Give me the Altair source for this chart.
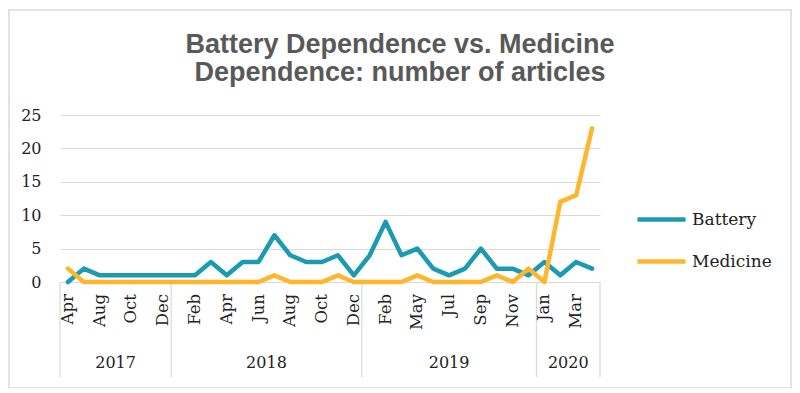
import altair as alt
import pandas as pd

title_lines = ["Battery Dependence vs. Medicine", "Dependence: number of articles"]
years = ["2017", "2018", "2019", "2020"]
months_2017 = ["Apr", "Jul", "Aug", "Sep", "Oct", "Nov", "Dec"]
months_2018 = ["Jan", "Feb", "Mar", "Apr", "May", "Jun", "Jul", "Aug", "Sep", "Oct", "Nov", "Dec"]
months_2019 = ["Jan", "Feb", "Mar", "May", "Jun", "Jul", "Aug", "Sep", "Oct", "Nov", "Dec"]
months_2020 = ["Jan", "Feb", "Mar", "Apr"]

battery = [0, 2, 1, 1, 1, 1, 1,
           1, 1, 3, 1, 3, 3, 7, 4, 3, 3, 4, 1,
           4, 9, 4, 5, 2, 1, 2, 5, 2, 2, 1,
           3, 1, 3, 2]
medicine = [2, 0, 0, 0, 0, 0, 0,
            0, 0, 0, 0, 0, 0, 1, 0, 0, 0, 1, 0,
            0, 0, 0, 1, 0, 0, 0, 0, 1, 0, 2,
            0, 12, 13, 23]

series_names = ["Battery", "Medicine"]
series_colors = ["#1A9BB1", "#FFB52C"]

month_groups = [months_2017, months_2018, months_2019, months_2020]
months = [m for g in month_groups for m in g]

rows = []
for i, m in enumerate(months):
    rows.append({"idx": i, "month": m, "series": "Battery", "value": battery[i]})
    rows.append({"idx": i, "month": m, "series": "Medicine", "value": medicine[i]})
df = pd.DataFrame(rows)

label_df = pd.DataFrame({"idx": list(range(0, len(months), 2)), "month": months[::2]})

bounds = [-0.5]
for g in month_groups:
    bounds.append(bounds[-1] + len(g))
year_df = pd.DataFrame({"year": years,
                        "center": [(bounds[i] + bounds[i + 1]) / 2 for i in range(len(years))]})
sep_df = pd.DataFrame({"b": bounds})
title_df = pd.DataFrame({"t": ["\n".join(title_lines)]})

W, H = 540, 167
SERIF = "DejaVu Serif"
GRID = "#d9d9d9"
TXT = "#222222"

xscale = alt.Scale(domain=[-0.5, len(months) - 0.5], nice=False, zero=False)

lines = alt.Chart(df).mark_line(strokeWidth=4.5, strokeCap="round", strokeJoin="round").encode(
    x=alt.X("idx:Q", scale=xscale,
            axis=alt.Axis(labels=False, ticks=False, grid=False, domainColor=GRID,
                          domainWidth=1.2, title=None)),
    y=alt.Y("value:Q", scale=alt.Scale(domain=[0, 25], nice=False),
            axis=alt.Axis(values=[0, 5, 10, 15, 20, 25], domain=False, ticks=False,
                          gridColor=GRID, gridWidth=1.2, labelPadding=19,
                          labelFont=SERIF, labelFontSize=16, labelColor=TXT,
                          title=None)),
    color=alt.Color("series:N",
                    scale=alt.Scale(domain=series_names, range=series_colors),
                    legend=alt.Legend(title=None, orient="none", legendX=575, legendY=78,
                                      symbolType="stroke", symbolStrokeWidth=4.5,
                                      symbolSize=2304, labelFont=SERIF, labelFontSize=17,
                                      labelColor=TXT, labelOffset=4, rowPadding=6)),
)

month_text = alt.Chart(label_df).mark_text(font=SERIF, fontSize=16.5, color=TXT,
                                           angle=270, align="right",
                                           baseline="middle").encode(
    x=alt.X("idx:Q", scale=xscale),
    y=alt.value(H + 12),
    text="month:N",
)

seps = alt.Chart(sep_df).mark_rule(color=GRID, strokeWidth=1.2).encode(
    x=alt.X("b:Q", scale=xscale),
    y=alt.value(H),
    y2=alt.value(H + 95),
)

year_text = alt.Chart(year_df).mark_text(font=SERIF, fontSize=16, color=TXT,
                                         baseline="middle").encode(
    x=alt.X("center:Q", scale=xscale),
    y=alt.value(H + 81),
    text="year:N",
)

title_text = alt.Chart(title_df).mark_text(font="Liberation Sans", fontSize=27,
                                           fontWeight="bold", color="#595959",
                                           align="center", baseline="alphabetic",
                                           lineBreak="\n", lineHeight=28).encode(
    x=alt.value(340),
    y=alt.value(-62),
    text="t:N",
)

frame = alt.Chart(pd.DataFrame({"a": [0]})).mark_rect(
    fill=None, stroke=GRID, strokeWidth=1.5).encode(
    x=alt.value(-51), x2=alt.value(731), y=alt.value(-105), y2=alt.value(273))

chart = alt.layer(frame, seps, year_text, month_text, title_text, lines).properties(
    width=W, height=H,
    autosize=alt.AutoSizeParams(type="none"),
    padding={"left": 52, "top": 107, "right": 192, "bottom": 106},
).configure_view(stroke=None)

chart.save("out.html", embed_options={"renderer": "svg", "actions": False})
